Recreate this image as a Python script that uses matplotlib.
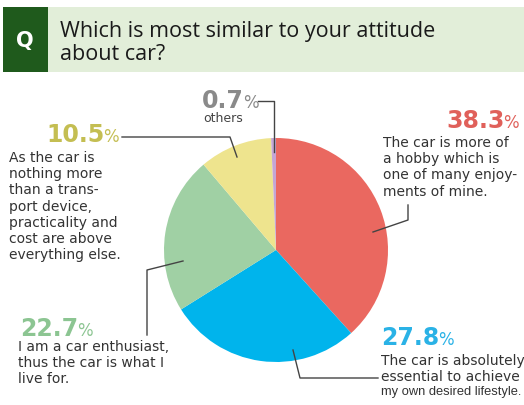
import matplotlib
matplotlib.use("Agg")
import matplotlib.pyplot as plt
from matplotlib.patches import Rectangle
from matplotlib import font_manager


# data ------------------------------------------------------------------------

shares = [38.3, 27.8, 22.7, 10.5, 0.7]
share_labels = ["38.3", "27.8", "22.7", "10.5", "0.7"]
answers = [
    "The car is more of\na hobby which is\none of many enjoy-\nments of mine.",
    "The car is absolutely\nessential to achieve\nmy own desired lifestyle.",
    "I am a car enthusiast,\nthus the car is what I\nlive for.",
    "As the car is\nnothing more\nthan a trans-\nport device,\npracticality and\ncost are above\neverything else.",
    "others",
]
wedge_colors = ["#EA6860", "#00B4EC", "#A0D0A4", "#EEE48E", "#C4A6D4"]
label_colors = ["#E0605A", "#2AB2E6", "#8CC592", "#C4BE52", "#8A8A8A"]
title_lines = ["Which is most similar to your attitude", "about car?"]


# figure in pixel coordinates (y goes down) ------------------------------------

W, H = 524, 405
fig = plt.figure(figsize=(W / 100, H / 100), dpi=100)
ax = fig.add_axes([0, 0, 1, 1])

ax.pie(shares, colors=wedge_colors, startangle=-90, counterclock=True,
       center=(276, 250), radius=112, frame=True,
       wedgeprops=dict(linewidth=0))

ax.set_xlim(0, W)
ax.set_ylim(H, 0)
ax.set_aspect("equal")
ax.axis("off")


# header ------------------------------------------------------------------------

ax.add_patch(Rectangle((3, 7), W - 3, 65, facecolor="#E2EED9", edgecolor="none"))
ax.add_patch(Rectangle((3, 7), 45, 65, facecolor="#1F5A1C", edgecolor="none"))
ax.text(25, 41, "Q", color="white", fontsize=15, fontweight="bold",
        ha="center", va="center", family="DejaVu Sans")
ax.text(60, 37, title_lines[0], fontsize=15.5, color="#1a1a1a", ha="left",
        va="baseline", family="Open Sans")
ax.text(60, 60, title_lines[1], fontsize=15.5, color="#1a1a1a", ha="left",
        va="baseline", family="Open Sans")


# leader lines --------------------------------------------------------------

line_kw = dict(color="#444444", linewidth=1.0)
ax.plot([373, 408, 408], [232, 220, 205], **line_kw)
ax.plot([293, 300, 378], [350, 378, 378], **line_kw)
ax.plot([183, 147, 147], [261, 270, 335], **line_kw)
ax.plot([237, 230, 122], [157, 137, 137], **line_kw)
ax.plot([274, 274, 258], [152, 101, 101], **line_kw)


# labels ----------------------------------------------------------------------

renderer = fig.canvas.get_renderer()


def pct_label(x, y, num, color, align):
    # bold number followed by a thinner, smaller percent sign
    inv = ax.transData.inverted()
    if align == "left":
        t = ax.text(x, y, num, color=color, fontsize=17, fontweight="bold",
                    ha="left", va="baseline")
        bb = t.get_window_extent(renderer)
        x2 = inv.transform((bb.x1, bb.y0))[0]
        ax.text(x2 - 1, y, "%", color=color, fontsize=12, ha="left",
                va="baseline")
    else:
        p = ax.text(x, y, "%", color=color, fontsize=12, ha="right",
                    va="baseline")
        bb = p.get_window_extent(renderer)
        x1 = inv.transform((bb.x0, bb.y0))[0]
        ax.text(x1 + 1, y, num, color=color, fontsize=17, fontweight="bold",
                ha="right", va="baseline")


body_kw = dict(fontsize=10, color="#333333", va="top", linespacing=1.2)

# narrow face for the squeezed last line
installed = {f.name for f in font_manager.fontManager.ttflist}
if "Liberation Sans Narrow" in installed:
    narrow = dict(family="Liberation Sans Narrow", fontsize=10.5)
else:
    narrow = dict(family="Liberation Sans", fontsize=9.3)

# red
pct_label(519, 128, share_labels[0], label_colors[0], "right")
ax.text(383, 136, answers[0], ha="left", **body_kw)

# blue
pct_label(381, 345, share_labels[1], label_colors[1], "left")
blue_lines = answers[1].split("\n")
ax.text(381, 354, "\n".join(blue_lines[:2]), ha="left", **body_kw)
ax.text(381, 386, blue_lines[2], ha="left", color="#333333", va="top",
        **narrow)

# green
pct_label(20, 336, share_labels[2], label_colors[2], "left")
ax.text(18, 340, answers[2], ha="left", **body_kw)

# yellow
pct_label(119, 142, share_labels[3], label_colors[3], "right")
ax.text(9, 151, answers[3], ha="left", **body_kw)

# others
pct_label(202, 108, share_labels[4], label_colors[4], "left")
ax.text(223, 112, answers[4], ha="center", va="top", fontsize=9,
        color="#444444")

fig.savefig("out.png", dpi=100)
